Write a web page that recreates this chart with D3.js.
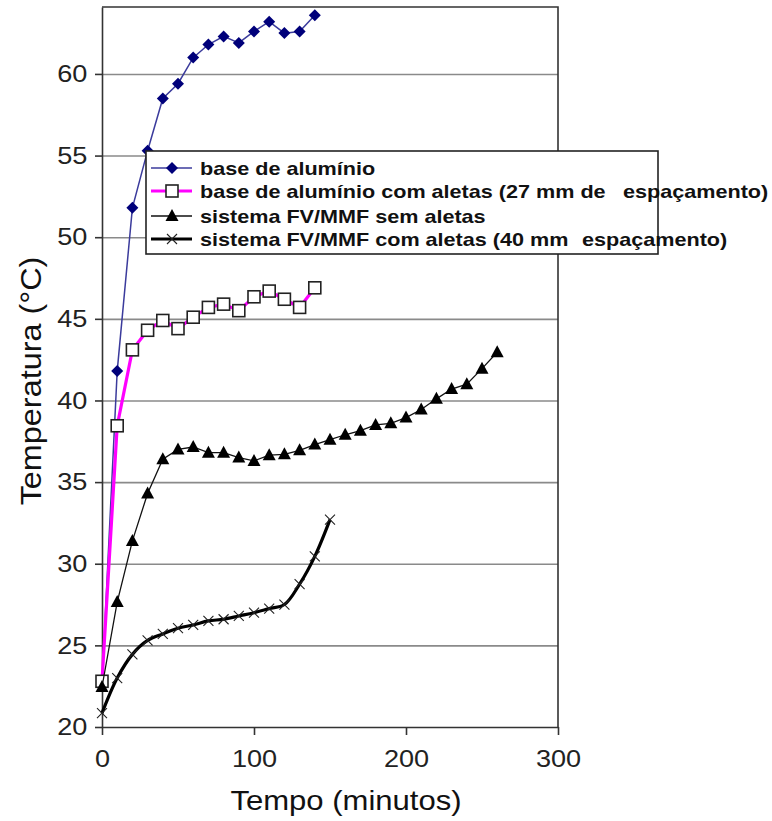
<!DOCTYPE html>
<html>
<head>
<meta charset="utf-8">
<script src="https://cdn.jsdelivr.net/npm/d3@7"></script>
<style>
  body { margin: 0; background: #fff; }
  svg { display: block; font-family: "Liberation Sans", Arial, sans-serif; }
</style>
</head>
<body>
<div id="chart"></div>
<script>
// time axis (minutes)
var tempoA = [0, 10, 20, 30, 40, 50, 60, 70, 80, 90, 100, 110, 120, 130, 140];
var tempoB = [0, 10, 20, 30, 40, 50, 60, 70, 80, 90, 100, 110, 120, 130, 140, 150, 160, 170, 180, 190, 200, 210, 220, 230, 240, 250, 260];
var tempoC = [0, 10, 20, 30, 40, 50, 60, 70, 80, 90, 100, 110, 120, 130, 140, 150];

// temperatures (°C)
var baseAluminio = [22.7, 41.8, 51.8, 55.3, 58.5, 59.4, 61.0, 61.8, 62.3, 61.9, 62.6, 63.2, 62.5, 62.6, 63.6];
var baseAletas27 = [22.8, 38.45, 43.1, 44.3, 44.9, 44.4, 45.1, 45.7, 45.9, 45.5, 46.35, 46.7, 46.2, 45.7, 46.9];
var fvSemAletas = [22.45, 27.65, 31.4, 34.3, 36.4, 37.0, 37.15, 36.8, 36.8, 36.5, 36.3, 36.65, 36.7, 36.95, 37.3, 37.6, 37.9, 38.15, 38.5, 38.6, 38.95, 39.45, 40.1, 40.7, 41.0, 41.95, 42.95];
var fvAletas40 = [20.85, 23.0, 24.45, 25.3, 25.7, 26.05, 26.25, 26.5, 26.6, 26.8, 27.0, 27.25, 27.5, 28.75, 30.45, 32.7];

var xTicks = [0, 100, 200, 300];
var yTicks = [20, 25, 30, 35, 40, 45, 50, 55, 60];
var legendLabels = [
  ["base de alumínio", ""],
  ["base de alumínio com aletas (27 mm de", "espaçamento)"],
  ["sistema FV/MMF sem aletas", ""],
  ["sistema FV/MMF com aletas (40 mm", "espaçamento)"]
];

var W = 772, H = 821;
var stretch = 1.13; // the original figure is widened a bit

var svg = d3.select("#chart").append("svg")
    .attr("width", W)
    .attr("height", H);

var x = d3.scaleLinear().domain([0, 300]).range([102, 558]);
var y = d3.scaleLinear().domain([20, 64.1]).range([727, 7]);

// gridlines
svg.append("g")
    .attr("transform", "translate(102,0)")
    .call(d3.axisLeft(y).tickValues(yTicks.slice(1)).tickSize(-456).tickFormat(""))
    .call(function(g) {
      g.select(".domain").remove();
      g.selectAll("line").attr("stroke", "#8a8a8a").attr("stroke-width", 1.6);
    });

// frame (top + right)
svg.append("path")
    .attr("d", "M102,7H558V727")
    .attr("fill", "none")
    .attr("stroke", "#333")
    .attr("stroke-width", 1.6);

// y axis
var yAxis = svg.append("g")
    .attr("transform", "translate(102,0)")
    .call(d3.axisLeft(y).tickValues(yTicks).tickSize(7).tickPadding(6).tickSizeOuter(0));
yAxis.selectAll("line, path").attr("stroke", "#333").attr("stroke-width", 1.6);
yAxis.selectAll("text")
    .attr("font-size", 24)
    .attr("fill", "#222")
    .attr("font-family", "Liberation Sans, Arial, sans-serif")
    .attr("transform", "scale(" + stretch + ",1)");

// x axis
var xAxis = svg.append("g")
    .attr("transform", "translate(0,727)")
    .call(d3.axisBottom(x).tickValues(xTicks).tickSize(8).tickPadding(15).tickSizeOuter(0));
xAxis.selectAll("line, path").attr("stroke", "#333").attr("stroke-width", 1.6);
xAxis.selectAll("text")
    .attr("font-size", 24)
    .attr("fill", "#222")
    .attr("font-family", "Liberation Sans, Arial, sans-serif")
    .attr("transform", "scale(" + stretch + ",1)");

// axis titles
svg.append("text")
    .attr("transform", "translate(346,810) scale(1.15,1)")
    .attr("text-anchor", "middle")
    .attr("font-size", 27)
    .attr("fill", "#111")
    .text("Tempo (minutos)");

svg.append("text")
    .attr("transform", "translate(41,381) scale(1.12,1) rotate(-90) scale(1.2,1)")
    .attr("text-anchor", "middle")
    .attr("font-size", 27)
    .attr("fill", "#111")
    .text("Temperatura (°C)");

// series
function pts(ts, vs) {
  return ts.map(function(t, i) { return [t, vs[i]]; });
}
var line = d3.line().x(function(d) { return x(d[0]); }).y(function(d) { return y(d[1]); });
var smooth = d3.line().curve(d3.curveCatmullRom).x(function(d) { return x(d[0]); }).y(function(d) { return y(d[1]); });

var dA = pts(tempoA, baseAluminio),
    dB = pts(tempoA, baseAletas27),
    dC = pts(tempoB, fvSemAletas),
    dD = pts(tempoC, fvAletas40);

var plot = svg.append("g");

// shape helpers (drawn at 0,0)
function diamond(g) {
  g.append("path").attr("d", "M0,-6L6,0L0,6L-6,0Z").attr("fill", "#00007a");
}
function square(g) {
  g.append("rect").attr("x", -6).attr("y", -6).attr("width", 12).attr("height", 12)
    .attr("fill", "#fff").attr("stroke", "#222").attr("stroke-width", 1.6);
}
function triangle(g) {
  g.append("path").attr("d", "M0,-7L6.5,5L-6.5,5Z").attr("fill", "#000");
}
function cross(g) {
  g.append("path").attr("d", "M-5,-5L5,5M-5,5L5,-5").attr("stroke", "#222").attr("stroke-width", 1.1);
}

function markers(data, shape) {
  plot.append("g").selectAll("g")
    .data(data)
    .enter()
      .append("g")
      .attr("transform", function(d) { return "translate(" + x(d[0]) + "," + y(d[1]) + ")"; })
      .each(function() { shape(d3.select(this)); });
}

plot.append("path").datum(dA).attr("d", line)
    .attr("fill", "none").attr("stroke", "#3b3b9c").attr("stroke-width", 1.5);
markers(dA, diamond);

plot.append("path").datum(dB).attr("d", line)
    .attr("fill", "none").attr("stroke", "#ff00ff").attr("stroke-width", 3.2);
markers(dB, square);

plot.append("path").datum(dC).attr("d", line)
    .attr("fill", "none").attr("stroke", "#111").attr("stroke-width", 1.3);
markers(dC, triangle);

plot.append("path").datum(dD).attr("d", smooth)
    .attr("fill", "none").attr("stroke", "#000").attr("stroke-width", 3.2);
markers(dD, cross);

// legend
var legend = svg.append("g");
legend.append("rect")
    .attr("x", 146).attr("y", 151).attr("width", 512).attr("height", 103)
    .attr("fill", "#fff").attr("stroke", "#222").attr("stroke-width", 1.6);

var legendStyles = [
  { stroke: "#3b3b9c", width: 1.5, shape: diamond },
  { stroke: "#ff00ff", width: 3.2, shape: square },
  { stroke: "#111", width: 1.3, shape: triangle },
  { stroke: "#000", width: 3.2, shape: cross }
];
var rowY = [168, 191, 216, 239];
var restX = [0, 623, 0, 582];

legendLabels.forEach(function(lab, i) {
  var row = legend.append("g").attr("transform", "translate(0," + rowY[i] + ")");
  row.append("line").attr("x1", 151).attr("x2", 192)
      .attr("stroke", legendStyles[i].stroke).attr("stroke-width", legendStyles[i].width);
  legendStyles[i].shape(row.append("g").attr("transform", "translate(172,0)"));
  row.append("text")
      .attr("transform", "translate(200,6.5) scale(1.2,1)")
      .attr("font-size", 18).attr("font-weight", "bold").attr("fill", "#111")
      .text(lab[0]);
  if (lab[1]) {
    row.append("text")
        .attr("transform", "translate(" + restX[i] + ",6.5) scale(1.2,1)")
        .attr("font-size", 18).attr("font-weight", "bold").attr("fill", "#111")
        .text(lab[1]);
  }
});
</script>
</body>
</html>
